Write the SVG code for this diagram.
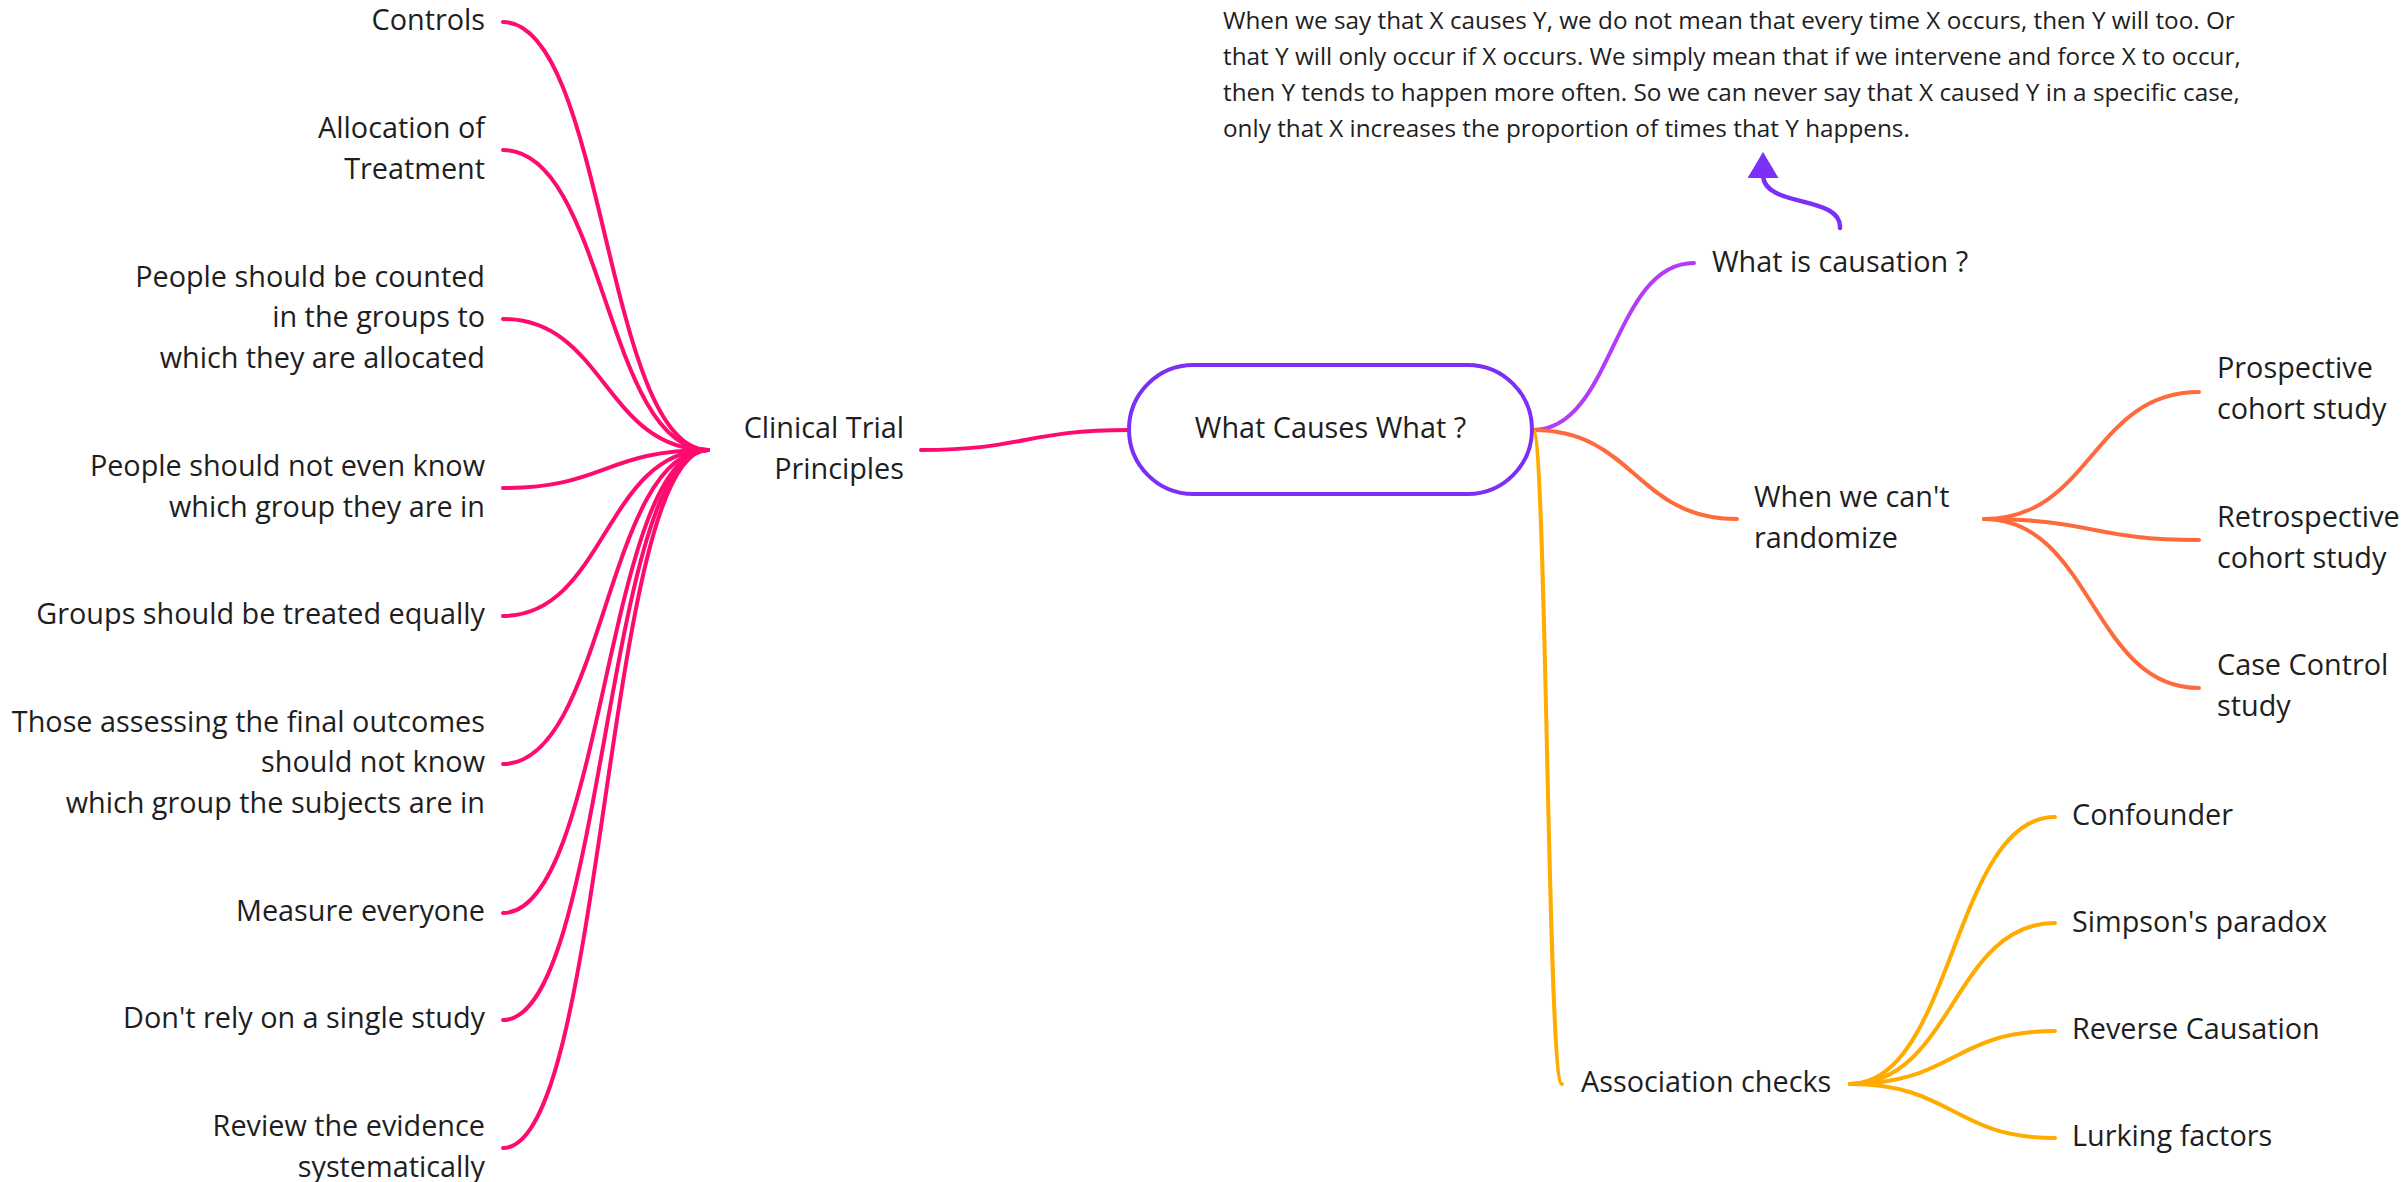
<svg xmlns="http://www.w3.org/2000/svg" width="2407" height="1182" viewBox="0 0 2407 1182">
  <defs>
    <style>
      .t { font-family: "Open Sans", "Noto Sans", "Liberation Sans", sans-serif; font-size: 28.8px; fill: #1e1e1e; }
      .p { font-family: "Open Sans", "Noto Sans", "Liberation Sans", sans-serif; font-size: 24.3px; fill: #1e1e1e; }
      .end { text-anchor: end; }
      .mid { text-anchor: middle; }
      .e { fill: none; stroke-width: 4; stroke-linecap: round; }
      .pink { stroke: #ff0a6e; }
      .violet { stroke: #b43cf7; }
      .orange { stroke: #ff6a3d; }
      .gold { stroke: #ffab00; }
      .note { fill: none; stroke: #7b2ff7; stroke-width: 4.5; stroke-linecap: round; }
    </style>
    <!-- upward-pointing triangle head for the note arrow -->
    <marker id="tri" viewBox="0 0 26 31" refX="2" refY="15.5" markerWidth="26" markerHeight="31" markerUnits="userSpaceOnUse" orient="270">
      <path d="M0 0 L26 15.5 L0 31 Z" fill="#7b2ff7"/>
    </marker>
  </defs>

  <rect width="2407" height="1182" fill="#ffffff"/>

  <!-- connectors -->
  <g id="connectors">
    <!-- root to Clinical Trial Principles -->
    <path class="e pink" d="M1129 430 C1025 430 1025 450 921 450"/>
    <!-- Clinical Trial Principles to its children -->
    <path class="e pink" d="M708 450 C605 450 605 22 503 22"/>
    <path class="e pink" d="M708 450 C605 450 605 150 503 150"/>
    <path class="e pink" d="M708 450 C605 450 605 319 503 319"/>
    <path class="e pink" d="M708 450 C605 450 605 488 503 488"/>
    <path class="e pink" d="M708 450 C605 450 605 616 503 616"/>
    <path class="e pink" d="M708 450 C605 450 605 764 503 764"/>
    <path class="e pink" d="M708 450 C605 450 605 913 503 913"/>
    <path class="e pink" d="M708 450 C605 450 605 1020 503 1020"/>
    <path class="e pink" d="M708 450 C605 450 605 1148 503 1148"/>
    <!-- root to right branches -->
    <path class="e violet" d="M1533 430 C1613 430 1613 263 1694 263"/>
    <path class="e orange" d="M1533 430 C1635 430 1635 519 1737 519"/>
    <path class="e gold" d="M1533 430 C1547 430 1547 1084 1562 1084"/>
    <!-- When we can't randomize to study types -->
    <path class="e orange" d="M1984 519 C2092 519 2092 392 2199 392"/>
    <path class="e orange" d="M1984 519 C2092 519 2092 540 2199 540"/>
    <path class="e orange" d="M1984 519 C2092 519 2092 688 2199 688"/>
    <!-- Association checks to its children -->
    <path class="e gold" d="M1850 1084 C1953 1084 1953 817 2055 817"/>
    <path class="e gold" d="M1850 1084 C1953 1084 1953 923 2055 923"/>
    <path class="e gold" d="M1850 1084 C1953 1084 1953 1031 2055 1031"/>
    <path class="e gold" d="M1850 1084 C1953 1084 1953 1138 2055 1138"/>
    <!-- note arrow from What is causation ? -->
    <path class="note" d="M1840 228 C1842 195 1765 208 1763 176" marker-end="url(#tri)"/>
  </g>

  <!-- root -->
  <g id="root">
    <rect x="1129" y="365" width="403" height="129" rx="64.5" ry="64.5" fill="#ffffff" stroke="#7b2ff7" stroke-width="4"/>
    <text class="t mid" x="1330.5" y="438">What Causes What ?</text>
  </g>

  <!-- left branch -->
  <g id="clinical-trial-principles">
    <text class="t end" x="904" y="438">Clinical Trial</text>
    <text class="t end" x="904" y="479">Principles</text>
  </g>
  <g id="controls">
    <text class="t end" x="485" y="30">Controls</text>
  </g>
  <g id="allocation">
    <text class="t end" x="485" y="138">Allocation of</text>
    <text class="t end" x="485" y="178.5">Treatment</text>
  </g>
  <g id="counted">
    <text class="t end" x="485" y="286.5">People should be counted</text>
    <text class="t end" x="485" y="327">in the groups to</text>
    <text class="t end" x="485" y="367.5">which they are allocated</text>
  </g>
  <g id="blinding">
    <text class="t end" x="485" y="476">People should not even know</text>
    <text class="t end" x="485" y="516.5">which group they are in</text>
  </g>
  <g id="equal-treatment">
    <text class="t end" x="485" y="624">Groups should be treated equally</text>
  </g>
  <g id="assessor-blinding">
    <text class="t end" x="485" y="731.5">Those assessing the final outcomes</text>
    <text class="t end" x="485" y="772">should not know</text>
    <text class="t end" x="485" y="812.5">which group the subjects are in</text>
  </g>
  <g id="measure-everyone">
    <text class="t end" x="485" y="921">Measure everyone</text>
  </g>
  <g id="single-study">
    <text class="t end" x="485" y="1028">Don't rely on a single study</text>
  </g>
  <g id="review">
    <text class="t end" x="485" y="1136">Review the evidence</text>
    <text class="t end" x="485" y="1176.5">systematically</text>
  </g>

  <!-- right branches -->
  <g id="causation">
    <text class="t" x="1712" y="272">What is causation ?</text>
  </g>
  <g id="causation-note">
    <text class="p" x="1223" y="29">When we say that X causes Y, we do not mean that every time X occurs, then Y will too. Or</text>
    <text class="p" x="1223" y="65">that Y will only occur if X occurs. We simply mean that if we intervene and force X to occur,</text>
    <text class="p" x="1223" y="101">then Y tends to happen more often. So we can never say that X caused Y in a specific case,</text>
    <text class="p" x="1223" y="137">only that X increases the proportion of times that Y happens.</text>
  </g>
  <g id="cant-randomize">
    <text class="t" x="1754" y="507">When we can't</text>
    <text class="t" x="1754" y="548">randomize</text>
  </g>
  <g id="prospective">
    <text class="t" x="2217" y="378">Prospective</text>
    <text class="t" x="2217" y="419">cohort study</text>
  </g>
  <g id="retrospective">
    <text class="t" x="2217" y="527">Retrospective</text>
    <text class="t" x="2217" y="568">cohort study</text>
  </g>
  <g id="case-control">
    <text class="t" x="2217" y="675">Case Control</text>
    <text class="t" x="2217" y="716">study</text>
  </g>
  <g id="association-checks">
    <text class="t" x="1581" y="1092">Association checks</text>
  </g>
  <g id="confounder">
    <text class="t" x="2072" y="825">Confounder</text>
  </g>
  <g id="simpson">
    <text class="t" x="2072" y="932">Simpson's paradox</text>
  </g>
  <g id="reverse-causation">
    <text class="t" x="2072" y="1039">Reverse Causation</text>
  </g>
  <g id="lurking">
    <text class="t" x="2072" y="1146">Lurking factors</text>
  </g>
</svg>
